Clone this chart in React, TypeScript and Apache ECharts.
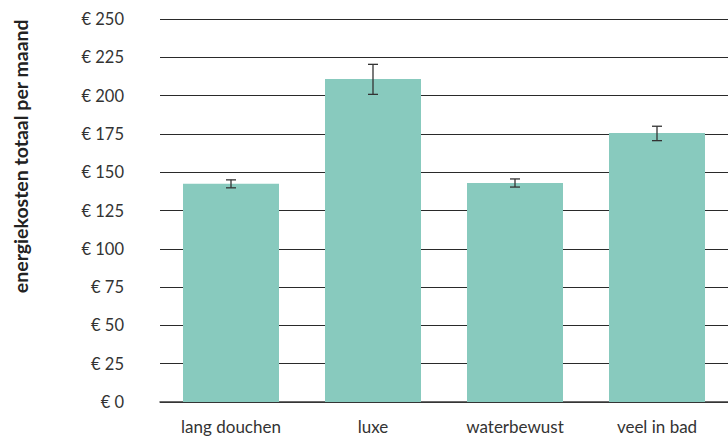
import React, { useEffect, useRef } from "react";
import * as echarts from "echarts";

const categories = ["lang douchen", "luxe", "waterbewust", "veel in bad"];
const values = [142.5, 210.8, 143, 175.6];
const errLow = [139.8, 200.8, 140.3, 170.6];
const errHigh = [145, 220.4, 145.6, 180];
const yTicks = { min: 0, max: 250, interval: 25 };

export default function App() {
  const ref = useRef<HTMLDivElement>(null);
  useEffect(() => {
    const chart = echarts.init(ref.current!, null, { renderer: "svg" });
    const font = "Lato";
    chart.setOption({
      animation: false,
      grid: { left: 160, top: 19, bottom: 37, width: 573 },
      xAxis: {
        type: "category",
        data: categories,
        axisTick: { show: false },
        axisLine: { lineStyle: { color: "#3a3a3a", width: 1.5 } },
        axisLabel: { color: "#333", fontSize: 17, fontFamily: font, margin: 16 },
      },
      yAxis: {
        type: "value",
        min: yTicks.min,
        max: yTicks.max,
        interval: yTicks.interval,
        axisLine: { show: false },
        axisTick: { show: false },
        axisLabel: {
          color: "#333",
          fontSize: 16.5,
          fontFamily: font,
          margin: 36,
          formatter: (v: number) => "€ " + v,
        },
        splitLine: { lineStyle: { color: "#2a2a2a", width: 1 } },
      },
      graphic: [
        {
          type: "text",
          left: 10,
          top: 19,
          rotation: Math.PI / 2,
          style: {
            text: "energiekosten totaal per maand",
            fontSize: 19.5,
            fontWeight: "bold",
            fontFamily: font,
            fill: "#222",
          },
        },
      ],
      series: [
        {
          type: "bar",
          data: values,
          barWidth: 96,
          itemStyle: { color: "#88cabe" },
          z: 2,
        },
        {
          type: "custom",
          z: 3,
          data: categories.map((_, i) => [i, errLow[i], errHigh[i]]),
          renderItem: (params: any, api: any) => {
            const lo = api.coord([api.value(0), api.value(1)]);
            const hi = api.coord([api.value(0), api.value(2)]);
            const w = 5;
            const st = { stroke: "#333", lineWidth: 1.3 };
            return {
              type: "group",
              children: [
                { type: "line", shape: { x1: lo[0], y1: lo[1], x2: hi[0], y2: hi[1] }, style: st },
                { type: "line", shape: { x1: lo[0] - w, y1: lo[1], x2: lo[0] + w, y2: lo[1] }, style: st },
                { type: "line", shape: { x1: hi[0] - w, y1: hi[1], x2: hi[0] + w, y2: hi[1] }, style: st },
              ],
            };
          },
        },
      ],
    });
    return () => chart.dispose();
  }, []);
  return <div ref={ref} style={{ width: 728, height: 439, position: "absolute", left: 0, top: 0 }} />;
}
